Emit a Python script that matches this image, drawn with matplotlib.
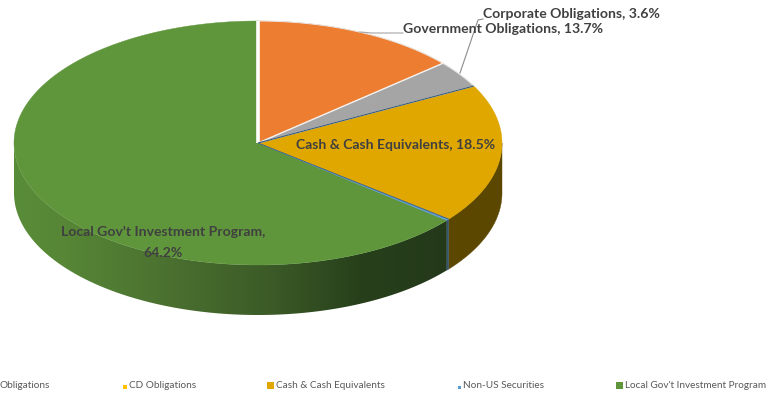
import matplotlib
matplotlib.use('Agg')
import matplotlib.pyplot as plt
import numpy as np
from matplotlib.colors import LinearSegmentedColormap
from matplotlib.patches import Polygon

plt.rcParams['font.family'] = ['Lato', 'DejaVu Sans']

# portfolio shares in percent, clockwise from twelve o'clock
categorias = ['Government Obligations', 'Corporate Obligations', 'CD Obligations',
              'Cash & Cash Equivalents', 'Non-US Securities', 'Local Gov\'t Investment Program']
valores = [13.7, 3.6, 0.0, 18.5, 0.2, 64.2]
cores = ['#ed7d31', '#a5a5a5', '#ffc000', '#dfa700', '#5b9bd5', '#5f963c']
cores_lado = ['#77401a', '#555555', '#806000', '#5c4700', '#34536f', None]

cx, cy, rx, ry, prof = 258, 143, 244, 122, 50

def ponto(ang, dy=0):
    return cx + rx * np.sin(ang), cy - ry * np.cos(ang) + dy

def arco(a0, a1, dy=0):
    t = np.linspace(a0, a1, max(int(abs(a1 - a0) * 80), 2))
    return np.column_stack(ponto(t, dy))

def raio(ang, cor, lw):
    x, y = ponto(ang)
    ax.plot([cx, x], [cy, y], color=cor, lw=lw, zorder=4, solid_capstyle='butt')

fig = plt.figure(figsize=(7.67, 3.96), dpi=100)
ax = fig.add_axes([0, 0, 1, 1])
ax.axis('off')

limites = np.cumsum([0] + valores) / sum(valores) * 2 * np.pi

# side wall: only the front half of the cylinder can be seen
for i in range(len(valores)):
    a0, a1 = max(limites[i], np.pi / 2), min(limites[i + 1], 3 * np.pi / 2)
    if a1 <= a0:
        continue
    lado = np.vstack([arco(a0, a1), arco(a0, a1, prof)[::-1]])
    if cores_lado[i] is not None:
        ax.add_patch(Polygon(lado, fc=cores_lado[i], ec=cores_lado[i], lw=0.3, zorder=2))
    else:
        # the big slice gets darker towards its right end
        cm = LinearSegmentedColormap.from_list('lado', [(0, '#598c38'), (0.12, '#568636'),
                                                        (0.35, '#4b7130'), (0.6, '#3b5a27'),
                                                        (0.8, '#27401b'), (1, '#24391a')])
        im = ax.imshow(np.linspace(0, 1, 256)[None, :], cmap=cm, aspect='auto',
                       extent=(14, 447, 396, 0), zorder=2)
        clip = Polygon(lado, fc='none', ec='none', transform=ax.transData)
        ax.add_patch(clip)
        im.set_clip_path(clip)
ax.set_xlim(0, 767)
ax.set_ylim(396, 0)

# top face
for i in [5, 3, 4, 1, 0]:
    topo = np.vstack([[cx, cy], arco(limites[i], limites[i + 1])])
    ax.add_patch(Polygon(topo, fc=cores[i], ec=cores[i], lw=0.3, zorder=3))

# thin white rim on the two small upper slices
ax.plot(*arco(limites[0], limites[2]).T, color='#e8e8e8', lw=0.7, zorder=4)

# slice separators
raio(limites[0], 'white', 2.6)
raio(limites[1], '#f4f4f4', 1.0)
raio(limites[2], '#f4f4f4', 0.9)
raio(limites[3], '#3f5f7a', 0.9)
raio(limites[4], '#3f5f7a', 0.6)

# leader lines
ax.plot([360, 372, 403], [32, 33, 33], color='#a6a6a6', lw=0.8, zorder=4)
ax.plot([460, 478, 483], [73, 20, 19], color='#8c8c8c', lw=0.8, zorder=4)

texto = dict(color='#404040', fontsize=10.1, fontweight='bold', zorder=5, va='center')
ax.text(483, 14, '%s, %.1f%%' % (categorias[1], valores[1]), ha='left', **texto)
ax.text(403, 29, '%s, %.1f%%' % (categorias[0], valores[0]), ha='left', **texto)
ax.text(396, 145, '%s, %.1f%%' % (categorias[3], valores[3]), ha='center', **texto)
ax.text(163, 232, categorias[5] + ',', ha='center', **texto)
ax.text(163, 253, '%.1f%%' % valores[5], ha='center', **texto)

# legend row, only the tail of the first entry fits on the canvas
ax.text(0, 385, categorias[0].split()[-1], color='#595959', fontsize=7.2, va='center', ha='left')
legenda = [(2, 123, 4), (3, 267, 7), (4, 458, 3), (5, 616, 7)]
for i, x, lado in legenda:
    ax.add_patch(Polygon([(x, 388.5), (x + lado, 388.5), (x + lado, 388.5 - lado), (x, 388.5 - lado)],
                         fc=cores[i], ec='none', zorder=3))
    ax.text(x + lado + 2, 385, categorias[i], color='#595959', fontsize=7.2, va='center', ha='left')

fig.savefig('out.png', dpi=100)
